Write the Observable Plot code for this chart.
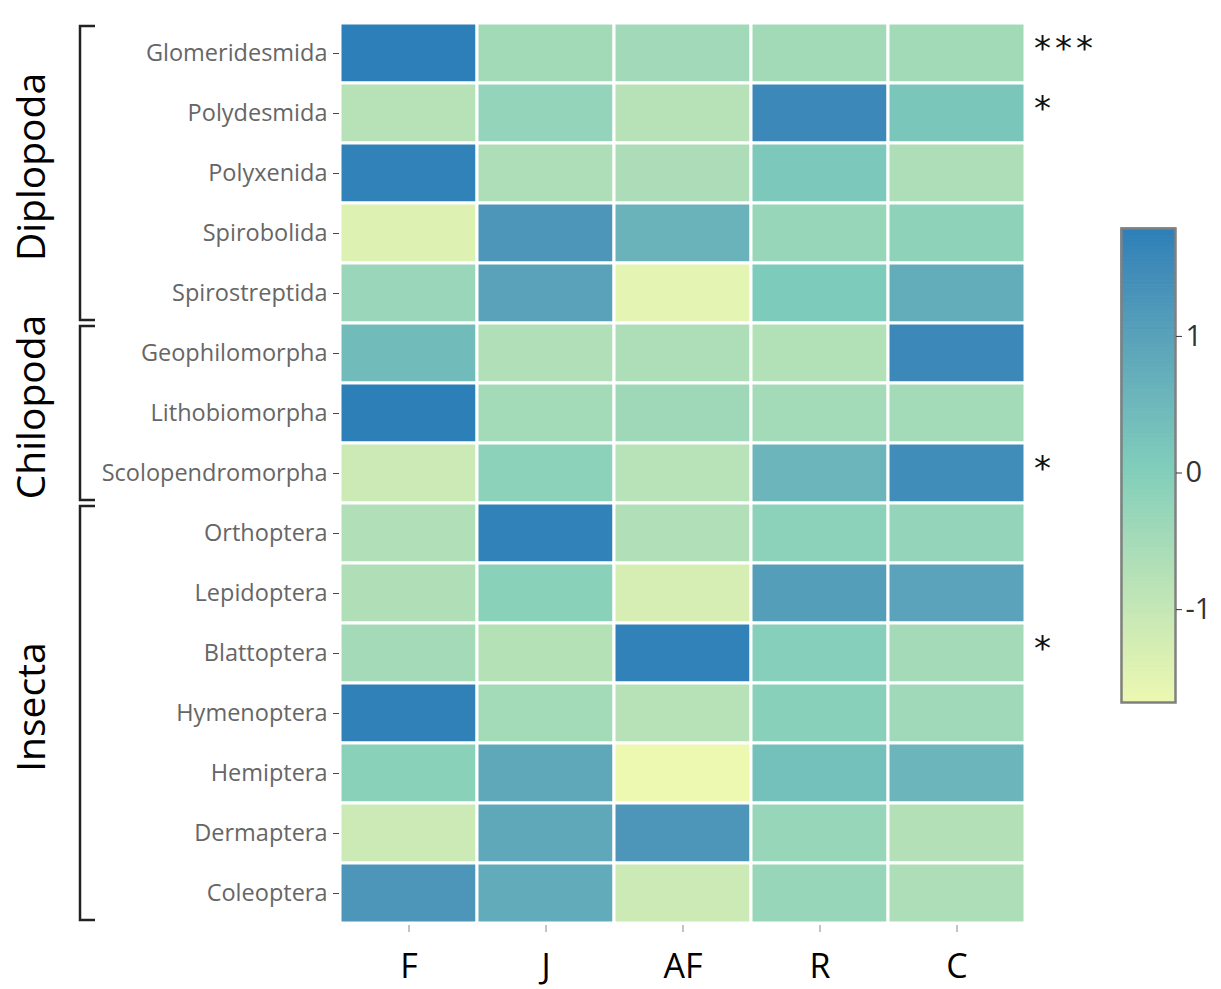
<!DOCTYPE html>
<html><head><meta charset="utf-8">
<script src="https://cdn.jsdelivr.net/npm/d3@7"></script>
<script src="https://cdn.jsdelivr.net/npm/@observablehq/plot@0.6"></script>
<style>
body{margin:0;background:#fff;}
#wrap{position:relative;width:1221px;height:989px;overflow:hidden;}
#legend{position:absolute;left:1100px;top:210px;}
</style></head><body><div id="wrap"><div id="chart"></div><div id="legend"></div></div>
<script>
const orders = ["Glomeridesmida","Polydesmida","Polyxenida","Spirobolida","Spirostreptida",
  "Geophilomorpha","Lithobiomorpha","Scolopendromorpha",
  "Orthoptera","Lepidoptera","Blattoptera","Hymenoptera","Hemiptera","Dermaptera","Coleoptera"];
const classes = ["Diplopoda","Chilopoda","Insecta"];
const classOfOrder = ["Diplopoda","Diplopoda","Diplopoda","Diplopoda","Diplopoda",
  "Chilopoda","Chilopoda","Chilopoda",
  "Insecta","Insecta","Insecta","Insecta","Insecta","Insecta","Insecta"];
const treatments = ["F","J","AF","R","C"];
const F  = [1.79,-0.77,1.72,-1.41,-0.32,0.43,1.78,-1.10,-0.68,-0.66,-0.48,1.74,-0.10,-1.10,1.25];
const J  = [-0.45,-0.24,-0.63,1.25,0.98,-0.68,-0.46,-0.12,1.72,-0.10,-0.74,-0.47,0.86,0.86,0.78];
const AF = [-0.44,-0.77,-0.60,0.61,-1.52,-0.63,-0.40,-0.80,-0.68,-1.28,1.72,-0.78,-1.68,1.25,-1.11];
const R  = [-0.45,1.58,0.13,-0.30,0.10,-0.70,-0.46,0.55,-0.12,1.08,-0.02,-0.08,0.34,-0.30,-0.30];
const C  = [-0.45,0.20,-0.62,-0.15,0.76,1.58,-0.46,1.47,-0.24,0.96,-0.48,-0.41,0.58,-0.71,-0.62];
const significance = ["***","*","","","","","","*","","","*","","","",""];
const legendTicks = [-1,0,1];
const palette = ["#edf8b1","#7fcdbb","#2c7fb8"];

const columns = {F, J, AF, R, C};
const data = orders.flatMap((o,i)=>treatments.map(t=>({order:o, treatment:t, value:columns[t][i]})));
const allVals = data.map(d=>d.value);
const vmin = d3.min(allVals), vmax = d3.max(allVals);
const colorOpts = {type:"linear", domain:[vmin,(vmin+vmax)/2,vmax], range:palette, interpolate:"lab"};
const sigData = orders.map((o,i)=>({order:o, s:significance[i]})).filter(d=>d.s);

const plot = Plot.plot({
  width:1221, height:989,
  marginLeft:339, marginRight:196, marginTop:20, marginBottom:64,
  style:{fontFamily:"Open Sans", background:"white"},
  x:{domain:treatments, padding:0, label:null},
  y:{domain:orders, padding:0, label:null},
  color:colorOpts,
  marks:[
    Plot.cell(data,{x:"treatment", y:"order", fill:"value", stroke:"white", strokeWidth:3}),
    Plot.axisY({tickSize:6, tickPadding:6, fontSize:23.5, color:"#666"}),
    Plot.axisX({tickSize:7, tickPadding:21, fontSize:34, color:"#000"}),
    Plot.text(sigData,{x:()=>"C", y:"order", text:"s", textAnchor:"start", dx:77, dy:-4, fontSize:34, fill:"#111", fontFamily:"DejaVu Sans"})
  ]
});
document.getElementById("chart").appendChild(plot);

const svg = d3.select(plot);
svg.selectAll("[aria-label='y-axis tick'] path").attr("stroke","#444");
svg.selectAll("[aria-label='x-axis tick'] path").attr("stroke","#888");
svg.selectAll("[aria-label='text'] text").attr("letter-spacing","4px");

// class brackets and labels
const y = plot.scale("y");
const bw = y.bandwidth;
const g = svg.append("g");
classes.forEach(c=>{
  const rows = orders.filter((o,i)=>classOfOrder[i]===c);
  const top = y.apply(rows[0]) + 3;
  const bot = y.apply(rows[rows.length-1]) + bw - 3;
  g.append("path").attr("d",`M95,${top}H80V${bot}H95`).attr("fill","none").attr("stroke","#222").attr("stroke-width",2.5);
  const cy = (top+bot)/2 - 6;
  g.append("text").attr("transform",`translate(45,${cy}) rotate(-90)`).attr("text-anchor","middle")
    .attr("font-family","Open Sans").attr("font-size",39).attr("fill","#000").text(c);
});

// legend
const n = 200;
const stripes = d3.range(n).map(i=>({y1: vmin + (vmax-vmin)*i/n, y2: vmin + (vmax-vmin)*(i+1)/n}))
  .map(d=>({...d, v:(d.y1+d.y2)/2}));
const legend = Plot.plot({
  width:121, height:510,
  marginLeft:21, marginRight:46, marginTop:18, marginBottom:18,
  style:{fontFamily:"Open Sans", background:"transparent"},
  x:{domain:[0,1], axis:null},
  y:{domain:[vmin,vmax], label:null},
  color:colorOpts,
  marks:[
    Plot.rect(stripes,{x1:0, x2:1, y1:"y1", y2:"y2", fill:"v", stroke:"v", strokeWidth:1}),
    Plot.frame({stroke:"#808080", strokeWidth:2.5}),
    Plot.axisY(legendTicks,{anchor:"right", tickSize:6, tickPadding:4, fontSize:29, color:"#333", tickFormat:d=>String(d)})
  ]
});
document.getElementById("legend").appendChild(legend);
</script></body></html>
